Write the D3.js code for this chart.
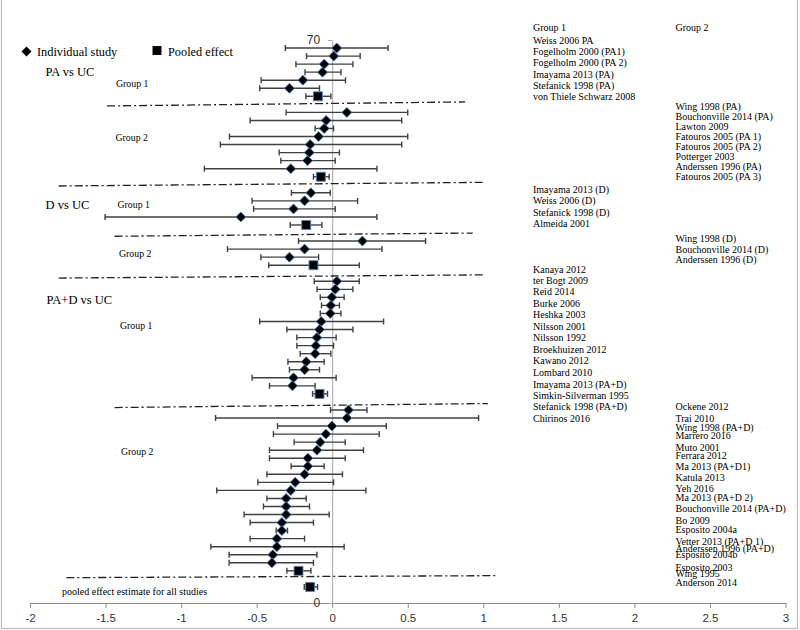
<!DOCTYPE html>
<html><head><meta charset="utf-8">
<script src="https://cdn.jsdelivr.net/npm/d3@7/dist/d3.min.js"></script>
<style>
html,body{margin:0;padding:0;background:#fff;}
svg{display:block;}
</style></head>
<body>
<svg id="chart" width="800" height="630"></svg>
<script>
// ---------- DATA ----------
const xTicks = [-2, -1.5, -1, -0.5, 0, 0.5, 1, 1.5, 2, 2.5, 3];
const yTicks = [0, 70];

const studyY      = [69,68,67,66,65,64, 61,60,59,58,57,56,55,54, 51,50,49,48, 45,44,43,
                     40,39,38,37,36,35,34,33,32,31,30,29,28,27,
                     24,23,22,21,20,19,18,17,16,15,14,13,12,11,10,9,8,7,6,5];
const studyEffect = [0.03,0.01,-0.053,-0.064,-0.194,-0.283,
                     0.097,-0.04,-0.053,-0.09,-0.146,-0.152,-0.163,-0.274,
                     -0.141,-0.183,-0.256,-0.605,
                     0.2,-0.183,-0.283,
                     0.031,0.02,-0.002,-0.009,-0.013,-0.073,-0.084,-0.101,-0.108,-0.113,-0.172,-0.183,-0.256,-0.263,
                     0.108,0.097,-0.002,-0.042,-0.079,-0.101,-0.161,-0.161,-0.183,-0.245,-0.274,-0.305,-0.305,-0.305,-0.333,-0.333,-0.366,-0.366,-0.393,-0.399];
const studyLower  = [-0.31,-0.17,-0.24,-0.18,-0.47,-0.48,
                     -0.305,-0.543,-0.113,-0.68,-0.74,-0.351,-0.34,-0.846,
                     -0.27,-0.53,-0.52,-1.503,
                     -0.223,-0.693,-0.472,
                     -0.119,-0.10,-0.079,-0.071,-0.079,-0.48,-0.30,-0.234,-0.234,-0.212,-0.293,-0.283,-0.53,-0.415,
                     -0.011,-0.772,-0.362,-0.389,-0.252,-0.415,-0.415,-0.272,-0.432,-0.492,-0.764,-0.432,-0.455,-0.583,-0.543,-0.371,-0.543,-0.803,-0.682,-0.682];
const studyUpper  = [0.37,0.185,0.137,0.058,0.088,-0.084,
                     0.50,0.46,0.009,0.50,0.46,0.048,0.02,0.296,
                     -0.013,0.168,0.02,0.296,
                     0.618,0.329,-0.09,
                     0.179,0.137,0.079,0.048,0.058,0.34,0.137,0.026,0.009,-0.009,-0.053,-0.084,0.026,-0.113,
                     0.23,0.969,0.358,0.311,0.086,0.207,0.086,-0.053,0.068,0.009,0.223,-0.172,-0.15,-0.02,-0.124,-0.296,-0.183,0.079,-0.101,-0.124];

const pooledY      = [63, 53, 47, 42, 26, 4, 2];
const pooledEffect = [-0.095, -0.075, -0.172, -0.124, -0.084, -0.223, -0.146];
const pooledLower  = [-0.174, -0.124, -0.278, -0.42, -0.13, -0.30, -0.185];
const pooledUpper  = [-0.009, -0.02, -0.068, 0.179, -0.031, -0.141, -0.097];

// separator lines (dash-dot), endpoints in data units
const sepX1 = [-1.49, -1.81, -1.44, -1.81, -1.44, -1.76];
const sepY1 = [61.8, 51.85, 45.6, 40.4, 24.3, 3.15];
const sepX2 = [0.88, 1.0, 0.93, 1.0, 1.03, 1.09];
const sepY2 = [62.3, 52.3, 46.0, 40.8, 24.8, 3.4];

// study name labels (two columns), vertical position in y units
const col1Labels = ["Weiss 2006 PA","Fogelholm 2000  (PA1)","Fogelholm 2000 (PA 2)","Imayama 2013 (PA)","Stefanick 1998 (PA)","von Thiele Schwarz 2008",
  "Imayama 2013 (D)","Weiss 2006 (D)","Stefanick 1998 (D)","Almeida 2001",
  "Kanaya 2012","ter Bogt 2009","Reid 2014","Burke 2006","Heshka 2003","Nilsson 2001","Nilsson 1992","Broekhuizen 2012","Kawano 2012","Lombard 2010","Imayama 2013 (PA+D)","Simkin-Silverman 1995","Stefanick 1998 (PA+D)","Chirinos 2016"];
const col1LabelY = [70.0,68.6,67.18,65.77,64.37,62.95,
  51.47,50.07,48.61,47.21,
  41.49,40.07,38.67,37.21,35.81,34.35,32.95,31.54,30.09,28.63,27.19,25.77,24.37,22.91];
const col2Labels = ["Wing 1998 (PA)","Bouchonville 2014 (PA)","Lawton 2009","Fatouros 2005 (PA 1)","Fatouros 2005 (PA 2)","Potterger 2003","Anderssen 1996 (PA)","Fatouros 2005 (PA 3)",
  "Wing 1998 (D)","Bouchonville 2014 (D)","Anderssen 1996 (D)",
  "Ockene 2012","Trai 2010","Wing 1998 (PA+D)","Marrero 2016","Muto 2001","Ferrara 2012","Ma 2013 (PA+D1)","Katula 2013","Yeh 2016","Ma 2013 (PA+D 2)","Bouchonville 2014 (PA+D)","Bo 2009","Esposito 2004a","Vetter 2013 (PA+D 1)","Anderssen 1996 (PA+D)","Esposito 2004b","Esposito 2003","Wing 1995","Anderson 2014"];
const col2LabelY = [61.71,60.46,59.22,57.98,56.73,55.49,54.25,53.0,
  45.34,43.93,42.65,
  24.41,23.0,21.85,20.80,19.36,18.28,17.03,15.58,14.21,13.09,11.69,10.23,9.16,7.62,6.75,5.97,4.44,3.61,2.57];
const columnHeaders = ["Group 1", "Group 2"];

const comparisonNames = ["PA vs UC", "D vs UC", "PA+D vs UC"];
const groupNames = ["Group 1","Group 2","Group 1","Group 2","Group 1","Group 2"];
const legendNames = ["Individual study", "Pooled effect"];
const overallName = "pooled effect estimate for all studies";

// ---------- LAYOUT ----------
const svg = d3.select("#chart");
const serif = "'Liberation Serif','Times New Roman',serif";
const sans = "'Liberation Sans',Arial,sans-serif";

const x = d3.scaleLinear().domain([-2, 3]).range([30, 785.5]);
const y = d3.scaleLinear().domain([0, 70]).range([603, 40]);

// chart border
svg.append("rect").attr("x", 1.5).attr("y", -3).attr("width", 796).attr("height", 631.5)
  .attr("fill", "none").attr("stroke", "#bfbfbf").attr("stroke-width", 1.2);

// x axis
const xAxis = svg.append("g").attr("transform", `translate(0,${y(0)})`)
  .call(d3.axisBottom(x).tickValues(xTicks).tickSize(5).tickSizeOuter(0).tickPadding(6)
    .tickFormat(d => String(d)));
xAxis.select(".domain").attr("stroke", "#8c8c8c");
xAxis.selectAll(".tick line").attr("stroke", "#8c8c8c");
xAxis.selectAll("text").attr("font-family", sans).attr("font-size", 11.5).attr("fill", "#333");

// y axis at x = 0
const yAxis = svg.append("g").attr("transform", `translate(${x(0)},0)`)
  .call(d3.axisLeft(y).tickValues(yTicks).tickSize(4).tickSizeOuter(0).tickPadding(8)
    .tickFormat(d => String(d)));
yAxis.select(".domain").attr("stroke", "#a6a6a6");
yAxis.selectAll(".tick line").attr("stroke", "#a6a6a6");
yAxis.selectAll("text").attr("font-family", sans).attr("font-size", 12).attr("fill", "#333");

// separator lines
const seps = sepX1.map((v, i) => [[v, sepY1[i]], [sepX2[i], sepY2[i]]]);
const line = d3.line().x(d => x(d[0])).y(d => y(d[1]));
svg.append("g").selectAll("path").data(seps).join("path")
  .attr("d", line).attr("fill", "none").attr("stroke", "#222").attr("stroke-width", 1.3)
  .attr("stroke-dasharray", "8,3,2,3");

// error bars
function errorBars(ys, lo, hi) {
  const g = svg.append("g").attr("stroke", "#404040").attr("stroke-width", 1.4);
  ys.forEach((yy, i) => {
    g.append("line").attr("x1", x(lo[i])).attr("x2", x(hi[i])).attr("y1", y(yy)).attr("y2", y(yy));
    g.append("line").attr("x1", x(lo[i])).attr("x2", x(lo[i])).attr("y1", y(yy) - 3).attr("y2", y(yy) + 3);
    g.append("line").attr("x1", x(hi[i])).attr("x2", x(hi[i])).attr("y1", y(yy) - 3).attr("y2", y(yy) + 3);
  });
}
errorBars(studyY, studyLower, studyUpper);
errorBars(pooledY, pooledLower, pooledUpper);

// markers
const diamond = d3.symbol().type(d3.symbolSquare).size(50);
const square = d3.symbol().type(d3.symbolSquare).size(80);
svg.append("g").selectAll("path").data(studyY).join("path")
  .attr("d", diamond)
  .attr("transform", (d, i) => `translate(${x(studyEffect[i])},${y(d)}) rotate(45)`)
  .attr("fill", "#000").attr("stroke", "#4f81bd").attr("stroke-width", 0.9);
svg.append("g").selectAll("path").data(pooledY).join("path")
  .attr("d", square)
  .attr("transform", (d, i) => `translate(${x(pooledEffect[i])},${y(d)})`)
  .attr("fill", "#000").attr("stroke", "#4f81bd").attr("stroke-width", 1);

// study labels
function labels(names, ys, px) {
  svg.append("g").selectAll("text").data(names).join("text")
    .attr("x", px).attr("y", (d, i) => y(ys[i])).attr("dy", "0.35em")
    .attr("font-family", serif).attr("font-size", 10).attr("fill", "#000")
    .text(d => d);
}
labels(col1Labels, col1LabelY, 533);
labels(col2Labels, col2LabelY, 675.5);
svg.append("g").selectAll("text").data(columnHeaders).join("text")
  .attr("x", (d, i) => i === 0 ? 533 : 675.5).attr("y", 27).attr("dy", "0.35em")
  .attr("font-family", serif).attr("font-size", 10).text(d => d);

// legend
const lg = svg.append("g");
lg.append("path").attr("d", diamond).attr("transform", "translate(26.5,51.5) rotate(45)").attr("fill", "#000");
lg.append("text").attr("x", 37).attr("y", 51.5).attr("dy", "0.35em").attr("font-family", serif)
  .attr("font-size", 12.3).text(legendNames[0]);
lg.append("path").attr("d", square).attr("transform", "translate(157,50.5)").attr("fill", "#000");
lg.append("text").attr("x", 168).attr("y", 51.5).attr("dy", "0.35em").attr("font-family", serif)
  .attr("font-size", 12.3).text(legendNames[1]);

// comparison titles
const compPos = [[45.5, 71.5], [45.5, 205], [46.5, 300]];
svg.append("g").selectAll("text").data(comparisonNames).join("text")
  .attr("x", (d, i) => compPos[i][0]).attr("y", (d, i) => compPos[i][1]).attr("dy", "0.35em")
  .attr("font-family", serif).attr("font-size", 12.5).text(d => d);

// group titles
const grpPos = [[116, 83.5], [115.5, 137.5], [117.5, 205], [119, 254], [120, 326], [121, 451.5]];
svg.append("g").selectAll("text").data(groupNames).join("text")
  .attr("x", (d, i) => grpPos[i][0]).attr("y", (d, i) => grpPos[i][1]).attr("dy", "0.35em")
  .attr("font-family", serif).attr("font-size", 9.8).text(d => d);

svg.append("text").attr("x", 62).attr("y", 591.5).attr("dy", "0.35em")
  .attr("font-family", serif).attr("font-size", 10).text(overallName);
</script>
</body></html>
